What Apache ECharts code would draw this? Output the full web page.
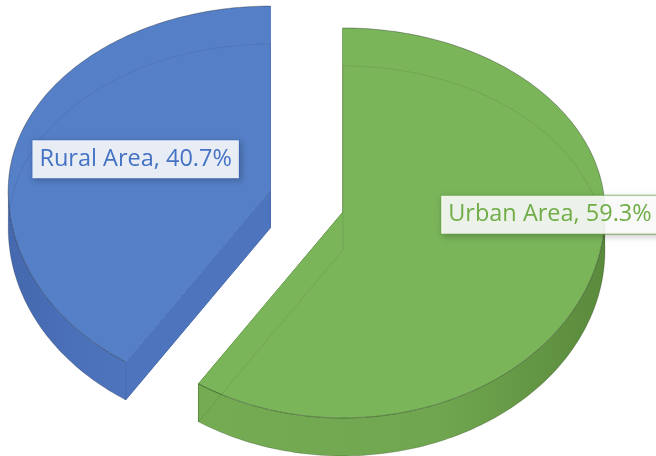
<!DOCTYPE html>
<html>
<head>
<meta charset="utf-8">
<title>Urban / Rural</title>
<script src="https://cdn.jsdelivr.net/npm/echarts@6/dist/echarts.min.js"></script>
<style>
html,body{margin:0;padding:0;background:#fff;}
#chart{width:656px;height:456px;}
</style>
</head>
<body>
<div id="chart"></div>
<script>
var areaNames = ['Urban Area', 'Rural Area'];
var areaShares = [59.3, 40.7];

// look of each slice: top face, side wall (left -> right), label text
var topColors = ['#7ab55a', '#5580c8'];
var sideColors = [['#74ab53', '#70a64f', '#5a8a3c'], ['#4568ae', '#4b71b9', '#4d74bc']];
var labelColors = ['#70ad47', '#4472c4'];
var labelBorders = ['rgba(112,173,71,0.7)', 'rgba(68,114,196,0.7)'];
var labelSpots = [[91, 0.79], [288, 0.54]]; // deg from 12 o'clock, fraction of radius

// fake 3d geometry
var cx = 306.6, cy = 201, rx = 262, ryUp = 184, ryDown = 206, depth = 38, explode = 38;

var total = areaShares.reduce(function (a, b) { return a + b; }, 0);
var starts = [];
var acc = 0;
areaShares.forEach(function (v) { starts.push(acc); acc += v; });

function pt(ox, oy, t, dz, f) {
	f = f || 1;
	var c = Math.cos(t);
	return [ox + rx * f * Math.sin(t), oy - (c >= 0 ? ryUp : ryDown) * f * c + dz];
}
function arc(ox, oy, t0, t1, dz) {
	var n = Math.max(2, Math.ceil(Math.abs(t1 - t0) / 0.02));
	var out = [];
	for (var i = 0; i <= n; i++) {
		out.push(pt(ox, oy, t0 + (t1 - t0) * i / n, dz));
	}
	return out;
}

function renderItem(params, api) {
	var i = params.dataIndex;
	var val = api.value(0);
	var a0 = starts[i] / total * 2 * Math.PI;
	var a1 = a0 + val / total * 2 * Math.PI;
	var mid = (a0 + a1) / 2;
	var ox = cx + explode * Math.sin(mid);
	var oy = cy - explode * Math.cos(mid);
	var children = [];

	// cut faces
	[a0, a1].forEach(function (t) {
		var e = pt(ox, oy, t, 0);
		children.push({
			type: 'polygon', z2: 1,
			shape: {points: [[ox, oy], e, [e[0], e[1] + depth], [ox, oy + depth]]},
			style: {fill: sideColors[i][2], stroke: sideColors[i][2], lineWidth: 1}
		});
	});

	// front wall, only the part facing us
	var w0 = Math.max(a0, Math.PI / 2), w1 = Math.min(a1, Math.PI * 1.5);
	if (w1 > w0) {
		var topArc = arc(ox, oy, w0, w1, 0);
		var botArc = arc(ox, oy, w0, w1, depth).reverse();
		children.push({
			type: 'polygon', z2: 2,
			shape: {points: topArc.concat(botArc)},
			style: {
				fill: {type: 'linear', x: 0, y: 0, x2: 1, y2: 0, colorStops: [
					{offset: 0, color: sideColors[i][0]},
					{offset: 0.6, color: sideColors[i][1]},
					{offset: 1, color: sideColors[i][2]}
				]},
				stroke: 'rgba(0,0,0,0.1)', lineWidth: 1
			}
		});
	}

	// top face
	children.push({
		type: 'polygon', z2: 3,
		shape: {points: [[ox, oy]].concat(arc(ox, oy, a0, a1, 0))},
		style: {fill: topColors[i]}
	});
	children.push({
		type: 'polyline', z2: 4,
		shape: {points: arc(ox, oy, a0, a1, 0)},
		style: {fill: null, stroke: 'rgba(0,0,0,0.3)', lineWidth: 1}
	});
	// bottom outline seen through the top
	children.push({
		type: 'polyline', z2: 4,
		shape: {points: [[ox, oy + depth]].concat(arc(ox, oy, a0, a1, depth)).concat([[ox, oy + depth]])},
		style: {fill: null, stroke: 'rgba(0,0,0,0.08)', lineWidth: 1}
	});

	// label
	var lp = pt(ox, oy, labelSpots[i][0] * Math.PI / 180, 0, labelSpots[i][1]);
	children.push({
		type: 'text', z2: 10,
		x: lp[0], y: lp[1],
		style: {
			text: areaNames[i] + ', ' + val.toFixed(1) + '%',
			fill: labelColors[i],
			font: '23.5px "Open Sans"',
			lineHeight: 27,
			align: 'center',
			verticalAlign: 'middle',
			backgroundColor: 'rgba(255,255,255,0.88)',
			borderColor: labelBorders[i],
			borderWidth: 1,
			padding: [6, 7, 5, 7],
			shadowColor: 'rgba(0,0,0,0.22)',
			shadowBlur: 6,
			shadowOffsetX: 2,
			shadowOffsetY: 2
		}
	});

	return {type: 'group', children: children};
}

var chart = echarts.init(document.getElementById('chart'));
chart.setOption({
	animation: false,
	series: [{
		type: 'custom',
		coordinateSystem: 'none',
		renderItem: renderItem,
		data: areaShares.map(function (v) { return [v]; })
	}]
});
</script>
</body>
</html>
